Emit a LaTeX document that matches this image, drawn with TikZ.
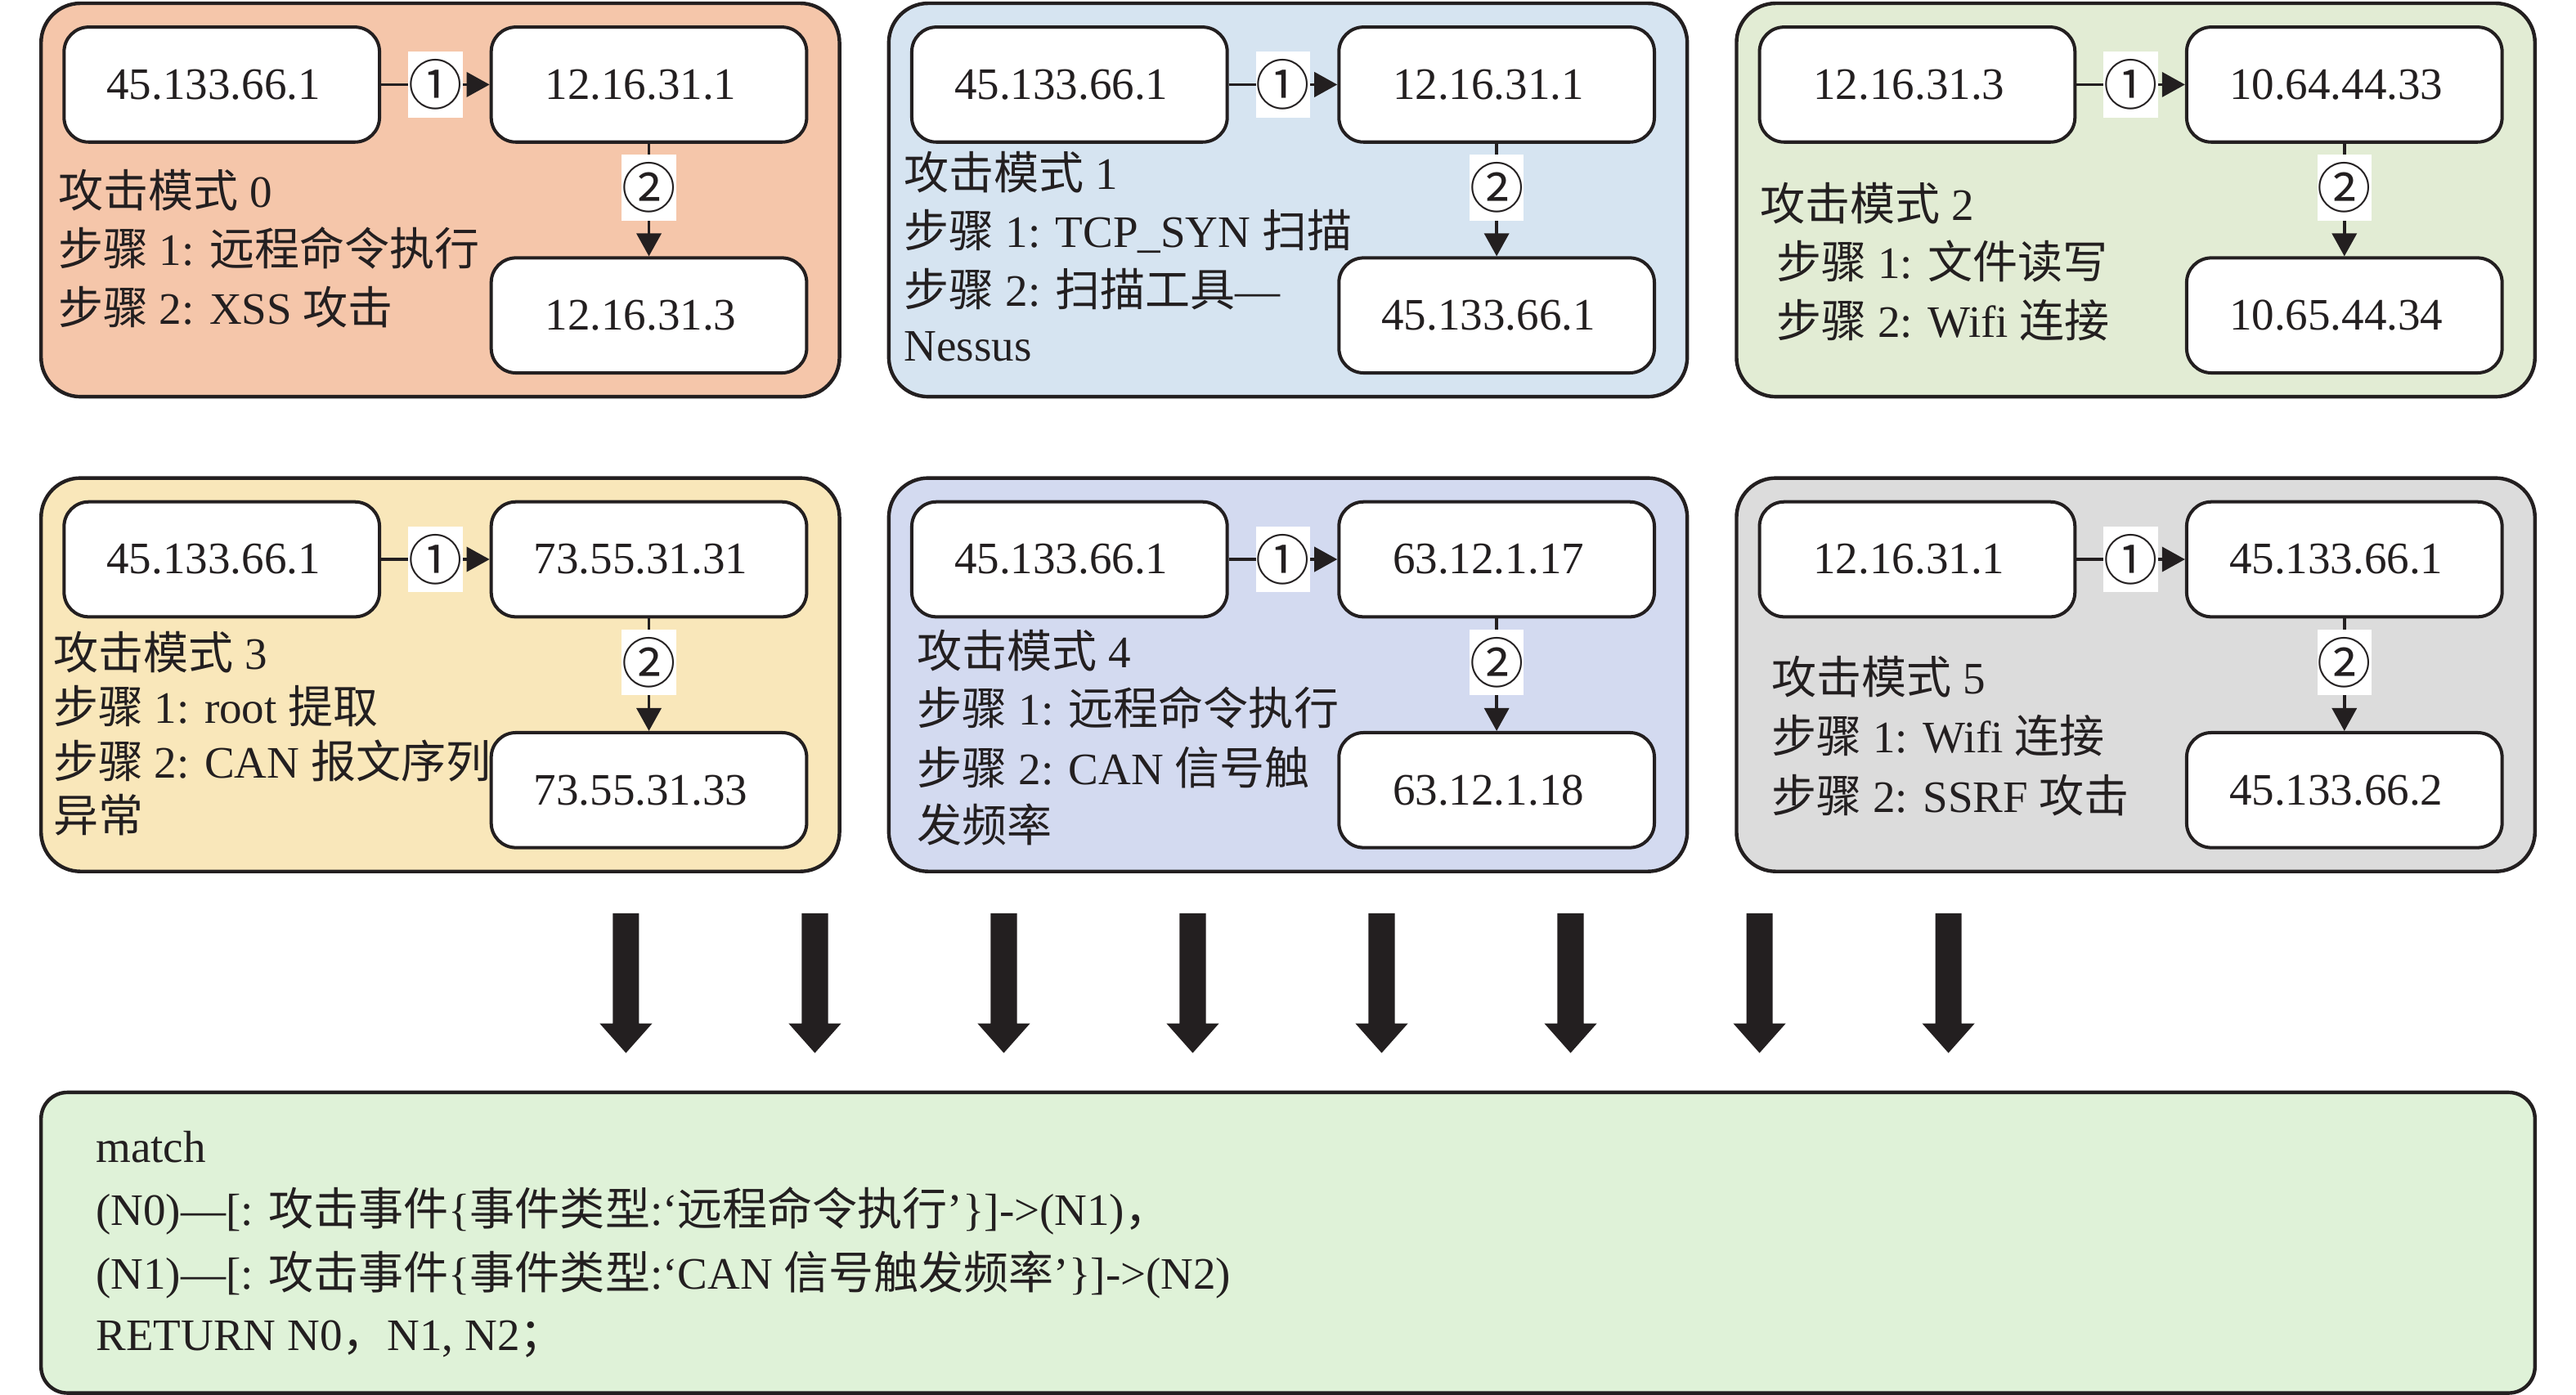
\documentclass[tikz,border=0pt]{standalone}
\usepackage{fontspec}
\setmainfont{Liberation Serif}
\newfontfamily\cjk{Noto Sans CJK SC}
\usetikzlibrary{arrows.meta}
\newcommand\zh[1]{{\cjk #1}}
\definecolor{ink}{HTML}{231F20}
\definecolor{cPa}{HTML}{F5C6AA}
\definecolor{cPb}{HTML}{D6E4F1}
\definecolor{cPc}{HTML}{E2ECD4}
\definecolor{cPd}{HTML}{F9E7BA}
\definecolor{cPe}{HTML}{D3DAF0}
\definecolor{cPf}{HTML}{DCDCDC}
\definecolor{cBot}{HTML}{DFF2D8}
\tikzset{
  panel/.style={draw=ink, line width=1.1pt, rounded corners=12pt},
  ipbox/.style={draw=ink, fill=white, line width=1pt, rounded corners=7.5pt,
    minimum width=96pt, minimum height=35pt, inner sep=0pt, text=ink,
    font=\fontsize{13.7}{16}\selectfont},
  flow/.style={draw=ink, line width=0.9pt, -{Triangle[length=7pt,width=7.5pt]}},
  numlab/.style={fill=white, inner sep=0pt, minimum width=15pt, minimum height=20pt,
    text=ink, font=\cjk\fontsize{16.5}{17}\selectfont},
  txt/.style={anchor=west, inner sep=0pt, text=ink, font=\fontsize{13.7}{16}\selectfont},
  bigarrow/.style={fill=ink},
}
\newcommand\ip[1]{#1\kern5pt}
\newcommand\attackpanel[7]{%
  \draw[panel, fill=#4] (#2,#3) rectangle ++(486,239.5);
  \node[ipbox] (#1a) at ({#2+110},{#3+49.5}) {\ip{#5}};
  \node[ipbox] (#1b) at ({#2+370},{#3+49.5}) {\ip{#6}};
  \node[ipbox] (#1c) at ({#2+370},{#3+190}) {\ip{#7}};
  \draw[flow] (#1a) -- node[numlab] (#1n1) {①} (#1b);
  \draw[flow] (#1b) -- node[numlab, pos=0.39] (#1n2) {②} (#1c);
}
\begin{document}
\begin{tikzpicture}[x=0.5pt, y=-0.5pt]
\useasboundingbox (0,0) rectangle (1568,849);

% row 1
\attackpanel{pa}{25}{2}{cPa}{45.133.66.1}{12.16.31.1}{12.16.31.3}
\attackpanel{pb}{541}{2}{cPb}{45.133.66.1}{12.16.31.1}{45.133.66.1}
\attackpanel{pc}{1057}{2}{cPc}{12.16.31.3}{10.64.44.33}{10.65.44.34}
% row 2
\attackpanel{pd}{25}{291}{cPd}{45.133.66.1}{73.55.31.31}{73.55.31.33}
\attackpanel{pe}{541}{291}{cPe}{45.133.66.1}{63.12.1.17}{63.12.1.18}
\attackpanel{pf}{1057}{291}{cPf}{12.16.31.1}{45.133.66.1}{45.133.66.2}

% panel texts
\node[txt] (ta1) at (35,116) {\zh{攻击模式} 0};
\node[txt] (ta2) at (35,151) {\zh{步骤} 1: \zh{远程命令执行}};
\node[txt] (ta3) at (35,187) {\zh{步骤} 2: XSS \zh{攻击}};

\node[txt] (tb1) at (550,105) {\zh{攻击模式} 1};
\node[txt] (tb2) at (550,141) {\zh{步骤} 1: TCP\_SYN \zh{扫描}};
\node[txt] (tb3) at (550,176) {\zh{步骤} 2: \zh{扫描工具}—};
\node[txt] (tb4) at (550,211) {Nessus};

\node[txt] (tc1) at (1071,124) {\zh{攻击模式} 2};
\node[txt] (tc2) at (1081,159) {\zh{步骤} 1: \zh{文件读写}};
\node[txt] (tc3) at (1081,195) {\zh{步骤} 2: Wifi \zh{连接}};

\node[txt] (td1) at (32,397) {\zh{攻击模式} 3};
\node[txt] (td2) at (32,430) {\zh{步骤} 1: root \zh{提取}};
\node[txt] (td3) at (32,463) {\zh{步骤} 2: CAN \zh{报文序列}};
\node[txt] (td4) at (32,496) {\zh{异常}};

\node[txt] (te1) at (558,396) {\zh{攻击模式} 4};
\node[txt] (te2) at (558,431) {\zh{步骤} 1: \zh{远程命令执行}};
\node[txt] (te3) at (558,467) {\zh{步骤} 2: CAN \zh{信号触}};
\node[txt] (te4) at (558,502) {\zh{发频率}};

\node[txt] (tf1) at (1078,412) {\zh{攻击模式} 5};
\node[txt] (tf2) at (1078,448) {\zh{步骤} 1: Wifi \zh{连接}};
\node[txt] (tf3) at (1078,484) {\zh{步骤} 2: SSRF \zh{攻击}};

% big arrows
\foreach \i in {0,...,7} {
  \pgfmathsetmacro\ax{381+115*\i}
  \fill[bigarrow] (\ax-8,556) -- (\ax+8,556) -- (\ax+8,623) -- (\ax+16,623)
    -- (\ax,641) -- (\ax-16,623) -- (\ax-8,623) -- cycle;
}

% bottom query box
\draw[panel, rounded corners=8pt, fill=cBot] (25,665) rectangle (1543,848);
\node[txt] (q1) at (58,698) {match};
\node[txt] (q2) at (58,737) {(N0)—[: \zh{攻击事件}\{\zh{事件类型}:‘\zh{远程命令执行}’\}]->(N1)\zh{，}};
\node[txt] (q3) at (58,776) {(N1)—[: \zh{攻击事件}\{\zh{事件类型}:‘CAN \zh{信号触发频率}’\}]->(N2)};
\node[txt] (q4) at (58,815) {RETURN N0\zh{，}N1, N2\zh{；}};
\end{tikzpicture}
\end{document}
